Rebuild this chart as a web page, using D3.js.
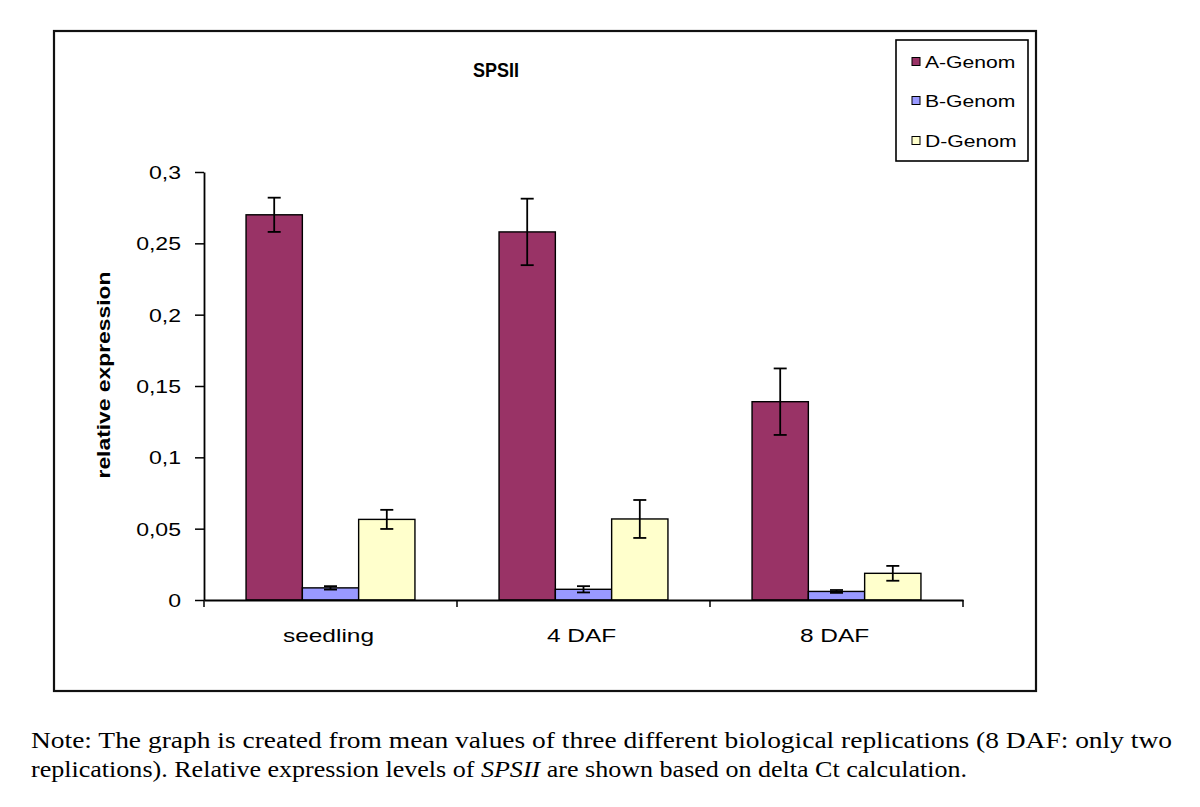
<!DOCTYPE html>
<html>
<head>
<meta charset="utf-8">
<script src="https://cdn.jsdelivr.net/npm/d3@7"></script>
<style>
  html, body { margin: 0; padding: 0; background: #fff; }
  svg { display: block; }
</style>
</head>
<body>
<svg id="chart" width="1200" height="807"></svg>
<script>
// ---- data ----
const categories = ["seedling", "4 DAF", "8 DAF"];
const series = ["A-Genom", "B-Genom", "D-Genom"];
const valuesA = [0.270, 0.258, 0.139];
const valuesB = [0.0085, 0.0075, 0.006];
const valuesD = [0.0565, 0.0568, 0.0187];
const errA = [0.012, 0.0233, 0.0233];
const errB = [0.0012, 0.0022, 0.0010];
const errD = [0.0067, 0.0133, 0.0052];
const yTicks = [0, 0.05, 0.1, 0.15, 0.2, 0.25, 0.3];
const colors = ["#993366", "#9999FF", "#FFFFCC"];
const titleText = "SPSII";
const yLabel = "relative expression";
const noteLine1 = "Note: The graph is created from mean values of three different biological replications (8 DAF: only two";
const noteLine2a = "replications). Relative expression levels of ";
const noteLine2b = "SPSII";
const noteLine2c = " are shown based on delta Ct calculation.";

const seriesValues = [valuesA, valuesB, valuesD];
const seriesErr = [errA, errB, errD];

const svg = d3.select("#chart");

function stretch(sel, sx) {
  sel.each(function () {
    const len = this.getComputedTextLength();
    d3.select(this).attr("textLength", len * sx).attr("lengthAdjust", "spacingAndGlyphs");
  });
}

const sans = "'Liberation Sans', Arial, sans-serif";

// outer frame
svg.append("rect")
  .attr("x", 54).attr("y", 31).attr("width", 982).attr("height", 660)
  .attr("fill", "none").attr("stroke", "#111").attr("stroke-width", 2.2);

// scales
const x0 = d3.scaleBand().domain(categories).range([204, 963]).paddingInner(0).paddingOuter(0);
const x1 = d3.scaleBand().domain(series).range([0, x0.bandwidth()]).paddingInner(0).paddingOuter(0.747);
const y = d3.scaleLinear().domain([0, 0.3]).range([600, 172]);

const fmt = d => String(d).replace(".", ",");

// bars
const rows = [];
categories.forEach((c, ci) => {
  series.forEach((s, si) => {
    rows.push({ c, s, si, v: seriesValues[si][ci], e: seriesErr[si][ci] });
  });
});

const barG = svg.append("g");
barG.selectAll("rect").data(rows).join("rect")
  .attr("x", d => x0(d.c) + x1(d.s))
  .attr("y", d => y(d.v))
  .attr("width", x1.bandwidth())
  .attr("height", d => y(0) - y(d.v))
  .attr("fill", d => colors[d.si])
  .attr("stroke", "#000").attr("stroke-width", 1.4);

// error bars
const errG = svg.append("g").attr("stroke", "#000").attr("stroke-width", 1.8).attr("fill", "none");
const cap = 6.5;
rows.forEach(d => {
  const cx = x0(d.c) + x1(d.s) + x1.bandwidth() / 2;
  const y1 = y(d.v + d.e), y2 = y(d.v - d.e);
  errG.append("line").attr("x1", cx).attr("x2", cx).attr("y1", y1).attr("y2", y2);
  errG.append("line").attr("x1", cx - cap).attr("x2", cx + cap).attr("y1", y1).attr("y2", y1);
  errG.append("line").attr("x1", cx - cap).attr("x2", cx + cap).attr("y1", y2).attr("y2", y2);
});

// y axis
const yAxis = d3.axisLeft(y).tickValues(yTicks).tickFormat(fmt).tickSizeInner(9).tickSizeOuter(0).tickPadding(14);
const yg = svg.append("g").attr("transform", "translate(204,0)").call(yAxis);
yg.select(".domain").attr("stroke", "#000").attr("stroke-width", 1.8);
yg.selectAll(".tick line").attr("stroke", "#000").attr("stroke-width", 1.5);
yg.selectAll(".tick text")
  .attr("font-family", sans)
  .attr("font-size", 18).attr("fill", "#000").attr("dy", "0.36em");
stretch(yg.selectAll(".tick text"), 1.28);

// x axis
const xAxis = d3.axisBottom(x0).tickSize(0).tickPadding(0).tickFormat("");
const xg = svg.append("g").attr("transform", "translate(0,600)").call(xAxis);
xg.select(".domain").attr("stroke", "#000").attr("stroke-width", 1.8);
const bounds = categories.map(c => x0(c)).concat([x0.range()[1]]);
xg.selectAll(".bnd").data(bounds).join("line").attr("class", "bnd")
  .attr("x1", d => d).attr("x2", d => d).attr("y1", 0).attr("y2", 7)
  .attr("stroke", "#000").attr("stroke-width", 1.5);
xg.selectAll(".cat").data(categories).join("text").attr("class", "cat")
  .attr("x", d => x0(d) + x0.bandwidth() / 2 - 2)
  .attr("y", 42)
  .attr("text-anchor", "middle")
  .attr("font-family", sans)
  .attr("font-size", 18.5).attr("fill", "#000")
  .text(d => d);
stretch(xg.selectAll(".cat"), 1.32);

// title
svg.append("text")
  .attr("x", 496).attr("y", 77)
  .attr("text-anchor", "middle")
  .attr("font-family", sans)
  .attr("font-weight", "bold").attr("font-size", 19.5)
  .attr("textLength", 46).attr("lengthAdjust", "spacingAndGlyphs")
  .text(titleText);

// y label
svg.append("text")
  .attr("transform", "translate(110,375) rotate(-90)")
  .attr("text-anchor", "middle")
  .attr("font-family", sans)
  .attr("font-weight", "bold").attr("font-size", 18)
  .attr("textLength", 207).attr("lengthAdjust", "spacingAndGlyphs")
  .text(yLabel);

// legend
const lg = svg.append("g");
lg.append("rect").attr("x", 896).attr("y", 40).attr("width", 132).attr("height", 121)
  .attr("fill", "#fff").attr("stroke", "#000").attr("stroke-width", 1.6);
const legY = [62, 101, 141];
series.forEach((s, i) => {
  lg.append("rect").attr("x", 912).attr("y", legY[i] - 4.5).attr("width", 8).attr("height", 8)
    .attr("fill", colors[i]).attr("stroke", "#000").attr("stroke-width", 1);
  lg.append("text").attr("x", 925).attr("y", legY[i]).attr("dy", "0.36em")
    .attr("font-family", sans)
    .attr("font-size", 16.5).attr("fill", "#000").attr("class", "legt")
    .text(s);
});
stretch(lg.selectAll(".legt"), 1.28);

// note
const noteFont = "'Liberation Serif', 'Times New Roman', Times, serif";
svg.append("text").attr("x", 31).attr("y", 748)
  .attr("font-family", noteFont).attr("font-size", 23).attr("fill", "#000")
  .attr("textLength", 1141).attr("lengthAdjust", "spacingAndGlyphs")
  .text(noteLine1);
const n2 = svg.append("text").attr("x", 31).attr("y", 777)
  .attr("font-family", noteFont).attr("font-size", 23).attr("fill", "#000")
  .attr("textLength", 936).attr("lengthAdjust", "spacingAndGlyphs");
n2.append("tspan").text(noteLine2a);
n2.append("tspan").attr("font-style", "italic").text(noteLine2b);
n2.append("tspan").text(noteLine2c);
</script>
</body>
</html>
